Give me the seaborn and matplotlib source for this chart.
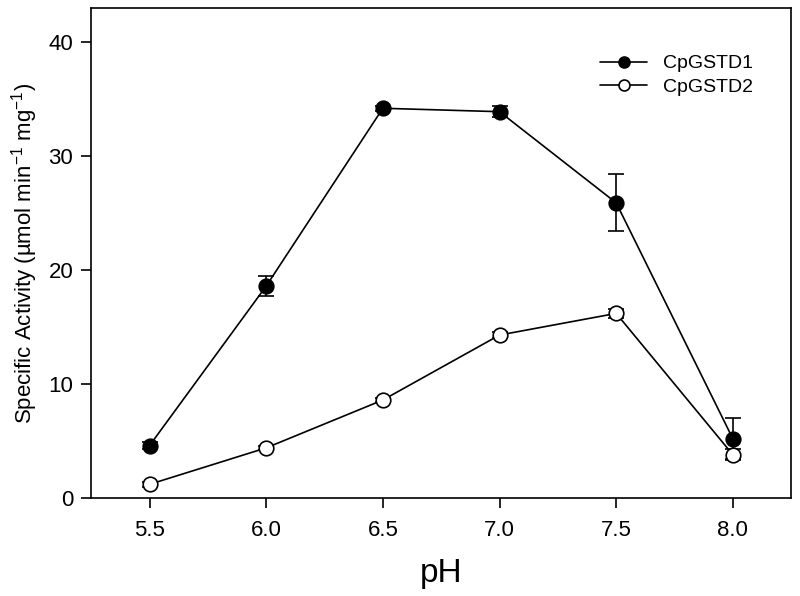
import matplotlib
matplotlib.use("Agg")
import matplotlib.pyplot as plt
import seaborn as sns
import pandas as pd

ph = [5.5, 6.0, 6.5, 7.0, 7.5, 8.0]
d1_mean = [4.6, 18.6, 34.2, 33.9, 25.9, 5.2]
d1_err = [0.3, 0.9, 0.2, 0.5, 2.5, 1.8]
d2_mean = [1.2, 4.4, 8.6, 14.3, 16.2, 3.8]
d2_err = [0.2, 0.2, 0.2, 0.3, 0.4, 0.5]
y_ticks = [0, 10, 20, 30, 40]
x_ticks = [5.5, 6.0, 6.5, 7.0, 7.5, 8.0]

sns.set_style("ticks")
plt.rcParams["font.family"] = ["Liberation Sans", "DejaVu Sans"]
plt.rcParams["mathtext.fontset"] = "custom"
plt.rcParams["mathtext.rm"] = "Liberation Sans"
plt.rcParams["mathtext.it"] = "Liberation Sans:italic"
plt.rcParams["mathtext.bf"] = "Liberation Sans:bold"
plt.rcParams["text.color"] = "black"
plt.rcParams["axes.labelcolor"] = "black"
plt.rcParams["xtick.color"] = "black"
plt.rcParams["ytick.color"] = "black"

df1 = pd.DataFrame({"pH": ph, "act": d1_mean, "err": d1_err})
df2 = pd.DataFrame({"pH": ph, "act": d2_mean, "err": d2_err})

fig = plt.figure(figsize=(8, 5.96), dpi=100)
ax = fig.add_axes([0.114, 0.1644, 0.875, 0.8222])

for df, fc, lab, z in [(df1, "black", "CpGSTD1", 3), (df2, "white", "CpGSTD2", 4)]:
    ax.errorbar(df["pH"], df["act"], yerr=df["err"], fmt="none", ecolor="black",
                elinewidth=1.2, capsize=6, capthick=1.2, zorder=z)
    sns.lineplot(data=df, x="pH", y="act", ax=ax, color="black", linewidth=1.2,
                 marker="o", markersize=10.5, markerfacecolor=fc,
                 markeredgecolor="black", markeredgewidth=1.2, label=lab, zorder=z)

ax.set_xlim(5.25, 8.25)
ax.set_ylim(0, 43)
ax.set_xticks(x_ticks)
ax.set_xticklabels([f"{v:.1f}" for v in x_ticks])
ax.set_yticks(y_ticks)
ax.tick_params(axis="both", direction="out", length=7, width=1.2, labelsize=16,
               color="black", labelcolor="black", pad=6)
ax.tick_params(axis="x", pad=9)
for s in ax.spines.values():
    s.set_linewidth(1.2)
    s.set_color("black")
ax.set_xlabel("pH", fontsize=24, labelpad=12)
ax.set_ylabel(r"Specific Activity (µmol min$^{-1}$ mg$^{-1}$)", fontsize=16, labelpad=6)

leg = ax.legend(loc="upper right", bbox_to_anchor=(0.97, 0.94), frameon=False,
                fontsize=14, markerscale=0.75, handlelength=2.4, labelspacing=0.3)

fig.savefig("out.png", dpi=100)
